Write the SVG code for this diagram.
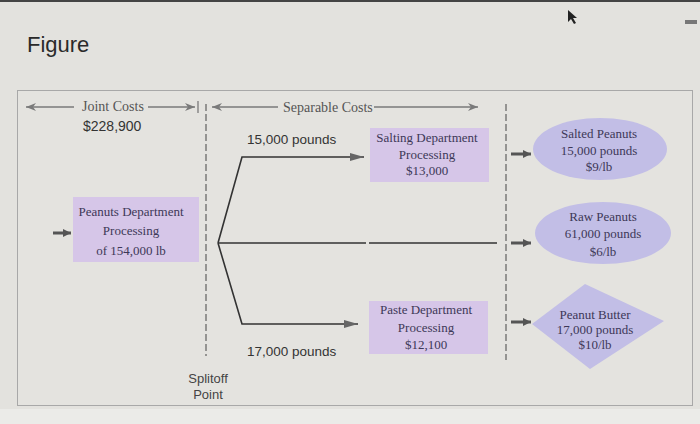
<svg xmlns="http://www.w3.org/2000/svg" width="700" height="424" viewBox="0 0 700 424">
<style>
.serif{font-family:"Liberation Serif","Times New Roman",serif}
.sans{font-family:"Liberation Sans",Arial,sans-serif}
.hdr{font-size:14px;fill:#555}
.box{fill:#d6c6e8}
.out{fill:#c2bee6}
.btxt{font-size:13px;fill:#3d3857;text-anchor:middle}
.gline{stroke:#7a7a7a;stroke-width:1.3;fill:none}
.bline{stroke:#333;stroke-width:1.6;fill:none}
.dash{stroke:#444;stroke-width:1;stroke-dasharray:7 3;fill:none}
.small{stroke:#555;stroke-width:3;fill:none}
</style>
<defs>
<marker id="ga" viewBox="0 0 10 8" refX="10" refY="4" markerWidth="10" markerHeight="8" markerUnits="userSpaceOnUse" orient="auto-start-reverse">
<path d="M0,0 L10,4 L0,8 L3,4 Z" fill="#7a7a7a"/>
</marker>
<marker id="ba" viewBox="0 0 14 8" refX="14" refY="4" markerWidth="14" markerHeight="8" markerUnits="userSpaceOnUse" orient="auto">
<path d="M0,0 L14,4 L0,8 Z" fill="#666"/>
</marker>
<marker id="sa" viewBox="0 0 8 8" refX="8" refY="4" markerWidth="8" markerHeight="8" markerUnits="userSpaceOnUse" orient="auto">
<path d="M0,0 L8,4 L0,8 Z" fill="#555"/>
</marker>
</defs>
<rect x="0" y="0" width="700" height="424" fill="#e3e2de"/>
<rect x="0" y="0" width="700" height="2" fill="#444"/>
<rect x="0" y="409" width="700" height="15" fill="#ebebe8"/>
<text class="sans" x="27" y="52" font-size="22" fill="#2a2a2a">Figure</text>
<polygon points="568,10 568,22 571,19 574,24 576,23 573,18 577,18" fill="#222"/>
<rect x="685" y="20" width="12" height="4" fill="#777"/>
<rect x="17.5" y="90.5" width="675" height="315" fill="#e4e3df" stroke="#a8a8a8" stroke-width="1"/>

<g id="connectors">
<line class="gline" x1="26" y1="107" x2="74" y2="107" marker-start="url(#ga)"/>
<line class="gline" x1="148" y1="107" x2="195" y2="107" marker-end="url(#ga)"/>
<line class="gline" x1="198" y1="101" x2="198" y2="113"/>
<line class="gline" x1="212" y1="107" x2="278" y2="107" marker-start="url(#ga)"/>
<line class="gline" x1="374" y1="107" x2="478" y2="107" marker-end="url(#ga)"/>
<line class="dash" x1="206" y1="104" x2="206" y2="356"/>
<line class="dash" x1="506" y1="104" x2="506" y2="360"/>
<polyline class="bline" points="218,243 242,157 364,157" marker-end="url(#ba)"/>
<polyline class="bline" points="218,243 242,324 358,324" marker-end="url(#ba)"/>
<line class="bline" x1="218" y1="243" x2="366" y2="243"/>
<line class="bline" x1="369" y1="243" x2="497" y2="243"/>
<line class="small" x1="53" y1="233" x2="71" y2="233" marker-end="url(#sa)"/>
<line class="small" x1="511" y1="154" x2="531" y2="154" marker-end="url(#sa)"/>
<line class="small" x1="511" y1="243" x2="531" y2="243" marker-end="url(#sa)"/>
<line class="small" x1="511" y1="322" x2="531" y2="322" marker-end="url(#sa)"/>
</g>

<g id="labels">
<text class="serif hdr" x="82" y="111">Joint Costs</text>
<text class="serif hdr" x="283" y="112">Separable Costs</text>
<text class="sans" x="83" y="131" font-size="14" fill="#333">$228,900</text>
<text class="sans" x="247" y="144" font-size="13.5" fill="#333">15,000 pounds</text>
<text class="sans" x="247" y="356" font-size="13.5" fill="#333">17,000 pounds</text>
<text class="sans" x="208" y="383" font-size="13" fill="#444" text-anchor="middle">Splitoff</text>
<text class="sans" x="208" y="399" font-size="13" fill="#444" text-anchor="middle">Point</text>
</g>

<g id="peanuts-dept">
<rect class="box" x="73" y="197" width="126" height="65"/>
<text class="serif btxt" font-size="12.5" x="131" y="216">Peanuts Department</text>
<text class="serif btxt" font-size="12.5" x="131" y="235">Processing</text>
<text class="serif btxt" font-size="12.5" x="131" y="255">of 154,000 lb</text>
</g>

<g id="salting-dept">
<rect class="box" x="370" y="128" width="119" height="54"/>
<text class="serif btxt" x="427" y="142">Salting Department</text>
<text class="serif btxt" x="427" y="159">Processing</text>
<text class="serif btxt" x="427" y="175">$13,000</text>
</g>

<g id="paste-dept">
<rect class="box" x="369" y="301" width="119" height="53"/>
<text class="serif btxt" x="426" y="314">Paste Department</text>
<text class="serif btxt" x="426" y="332">Processing</text>
<text class="serif btxt" x="426" y="349">$12,100</text>
</g>

<g id="salted-peanuts">
<ellipse class="out" cx="600" cy="149" rx="67" ry="31"/>
<text class="serif btxt" x="599" y="138">Salted Peanuts</text>
<text class="serif btxt" x="599" y="155">15,000 pounds</text>
<text class="serif btxt" x="599" y="171">$9/lb</text>
</g>

<g id="raw-peanuts">
<ellipse class="out" cx="603" cy="233" rx="68" ry="31"/>
<text class="serif btxt" x="603" y="221">Raw Peanuts</text>
<text class="serif btxt" x="603" y="238">61,000  pounds</text>
<text class="serif btxt" x="603" y="256">$6/lb</text>
</g>

<g id="peanut-butter">
<polygon class="out" points="585,284 664,321 590,369 532,324"/>
<text class="serif btxt" x="595" y="319">Peanut Butter</text>
<text class="serif btxt" x="595" y="334">17,000  pounds</text>
<text class="serif btxt" x="595" y="349">$10/lb</text>
</g>
</svg>
